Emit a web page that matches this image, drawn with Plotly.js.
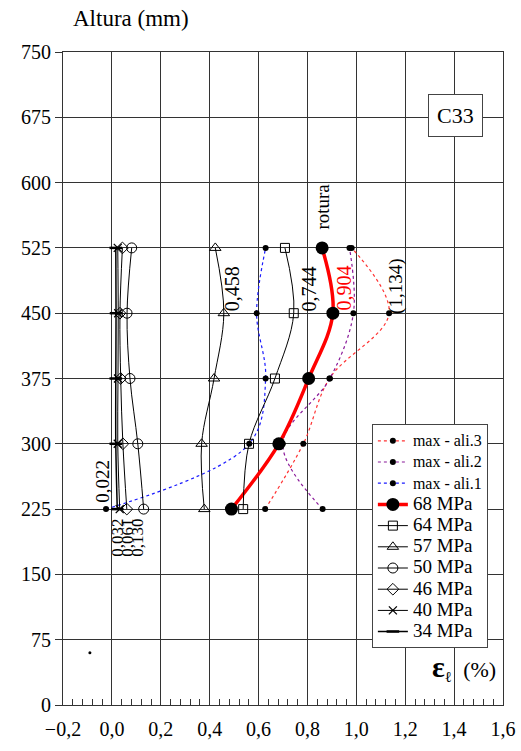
<!DOCTYPE html>
<html>
<head>
<meta charset="utf-8">
<script src="https://cdn.plot.ly/plotly-3.0.1.min.js"></script>
<style>html,body{margin:0;padding:0;background:#fff;}#chart{width:521px;height:751px;}</style>
</head>
<body>
<div id="chart"></div>
<script>
// Heights (mm)
const heights = [225, 300, 375, 450, 525];
// Strain values (%) at each height
const maxAli3 = [0.627, 0.783, 0.890, 1.134, 0.981];
const maxAli2 = [0.862, 0.699, 0.892, 0.988, 0.972];
const maxAli1 = [-0.024, 0.562, 0.629, 0.592, 0.629];
const mpa68 = [0.489, 0.683, 0.805, 0.904, 0.860];
const mpa64 = [0.537, 0.561, 0.667, 0.744, 0.708];
const mpa57 = [0.378, 0.367, 0.418, 0.458, 0.423];
const mpa50 = [0.130, 0.106, 0.074, 0.062, 0.081];
const mpa46 = [0.061, 0.045, 0.036, 0.033, 0.043];
const mpa40 = [0.032, 0.024, 0.025, 0.026, 0.024];
const mpa34 = [0.022, 0.016, 0.016, 0.017, 0.016];
// stray point
const strayX = [-0.09];
const strayY = [60];
// value labels
const labelTexts = ['rotura', '0,904', '0,744', '(1,134)', '0,458', '0,022', '0,032', '0,061', '0,130'];
const labelX = [0.862, 0.948, 0.805, 1.165, 0.489, -0.038, 0.025, 0.066, 0.107];
const labelY = [572, 479, 478, 481, 478, 257, 192, 192, 192];
const labelColors = ['black', 'red', 'black', 'black', 'black', 'black', 'black', 'black', 'black'];
const labelSizes = [19, 20, 20, 19, 20, 19, 17, 17, 17];

const serif = 'Liberation Serif';
const big = s => '<span style="font-size:19px">' + s + '</span>';
const mid = s => '<span style="font-size:16px">' + s + '</span>';

const dotM = {color: 'black', size: 6};
const blackLine = {color: 'black', width: 1, shape: 'spline', smoothing: 1};

const traces = [
  {x: maxAli3, y: heights, name: mid('max - ali.3'), mode: 'lines+markers',
   line: {color: '#ff3333', width: 1.2, dash: 'dot', shape: 'spline', smoothing: 1}, marker: dotM},
  {x: maxAli2, y: heights, name: mid('max - ali.2'), mode: 'lines+markers',
   line: {color: '#8a1a9a', width: 1.2, dash: 'dot', shape: 'spline', smoothing: 1}, marker: dotM},
  {x: maxAli1, y: heights, name: mid('max - ali.1'), mode: 'lines+markers',
   line: {color: '#1a1aff', width: 1.2, dash: 'dot', shape: 'spline', smoothing: 1}, marker: dotM},
  {x: mpa68, y: heights, name: big('68 MPa'), mode: 'lines+markers',
   line: {color: '#ff0000', width: 3.5, shape: 'spline', smoothing: 1},
   marker: {color: 'black', size: 13}},
  {x: mpa64, y: heights, name: big('64 MPa'), mode: 'lines+markers', line: blackLine,
   marker: {symbol: 'square-open', color: 'black', size: 9, line: {width: 1}}},
  {x: mpa57, y: heights, name: big('57 MPa'), mode: 'lines+markers', line: blackLine,
   marker: {symbol: 'triangle-up-open', color: 'black', size: 10, line: {width: 1}}},
  {x: mpa50, y: heights, name: big('50 MPa'), mode: 'lines+markers', line: blackLine,
   marker: {symbol: 'circle-open', color: 'black', size: 10, line: {width: 1}}},
  {x: mpa46, y: heights, name: big('46 MPa'), mode: 'lines+markers', line: blackLine,
   marker: {symbol: 'diamond-open', color: 'black', size: 9, line: {width: 1}}},
  {x: mpa40, y: heights, name: big('40 MPa'), mode: 'lines+markers', line: blackLine,
   marker: {symbol: 'x-thin', color: 'black', size: 8, line: {width: 1.3, color: 'black'}}},
  {x: mpa34, y: heights, name: big('34 MPa'), mode: 'lines+markers', line: {color: 'black', width: 1.5, shape: 'spline'},
   marker: {symbol: 'line-ew', color: 'black', size: 9, line: {width: 2.5, color: 'black'}}},
  {x: strayX, y: strayY, mode: 'markers', showlegend: false, marker: {color: 'black', size: 3}}
];

const annotations = labelTexts.map((t, i) => ({
  x: labelX[i], y: labelY[i], xref: 'x', yref: 'y', text: t, showarrow: false,
  textangle: -90, xanchor: 'center', yanchor: 'middle',
  font: {family: serif, size: labelSizes[i], color: labelColors[i]}
}));
annotations.push({
  x: 1.406, y: 677, xref: 'x', yref: 'y', text: 'C33', showarrow: false,
  font: {family: serif, size: 22, color: 'black'},
  bgcolor: 'white', bordercolor: '#444', borderwidth: 1, borderpad: 8
});
annotations.push({
  x: 0.155, y: 1.052, xref: 'paper', yref: 'paper', text: 'Altura (mm)', showarrow: false,
  xanchor: 'center', yanchor: 'middle', font: {family: serif, size: 23, color: 'black'}
});
annotations.push({
  x: 0.912, y: 0.057, xref: 'paper', yref: 'paper',
  text: '<b><span style="font-size:30px">ε</span></b><sub>ℓ</sub>  (%)', showarrow: false,
  xanchor: 'center', yanchor: 'middle', font: {family: serif, size: 22, color: 'black'}
});

const layout = {
  width: 521, height: 751,
  margin: {l: 63, r: 18, t: 52, b: 46},
  paper_bgcolor: 'white', plot_bgcolor: 'white',
  separators: ', ',
  showlegend: true,
  font: {family: serif, color: 'black'},
  xaxis: {
    range: [-0.2, 1.6], dtick: 0.2, tick0: 0, tickformat: '.1f',
    showgrid: true, gridcolor: '#333', gridwidth: 1,
    zeroline: false, showline: true, linecolor: '#333', linewidth: 1, mirror: true,
    ticks: 'inside', ticklen: 7, tickcolor: '#333', ticklabelstandoff: 6,
    minor: {dtick: 0.04, ticks: 'inside', ticklen: 6, tickcolor: '#333', showgrid: false},
    tickfont: {family: serif, size: 20, color: 'black'}
  },
  yaxis: {
    range: [0, 750], dtick: 75, tick0: 0,
    showgrid: true, gridcolor: '#333', gridwidth: 1,
    zeroline: false, showline: true, linecolor: '#333', linewidth: 1, mirror: true,
    ticks: 'outside', ticklen: 7, tickcolor: '#333',
    tickfont: {family: serif, size: 20, color: 'black'}
  },
  legend: {
    x: 0.702, y: 0.430, xanchor: 'left', yanchor: 'top',
    bgcolor: 'white', bordercolor: '#444', borderwidth: 1,
    font: {family: serif, size: 14, color: 'black'},
    tracegroupgap: 0, itemwidth: 30
  },
  annotations: annotations
};

Plotly.newPlot('chart', traces, layout, {displayModeBar: false, staticPlot: true});
</script>
</body>
</html>
